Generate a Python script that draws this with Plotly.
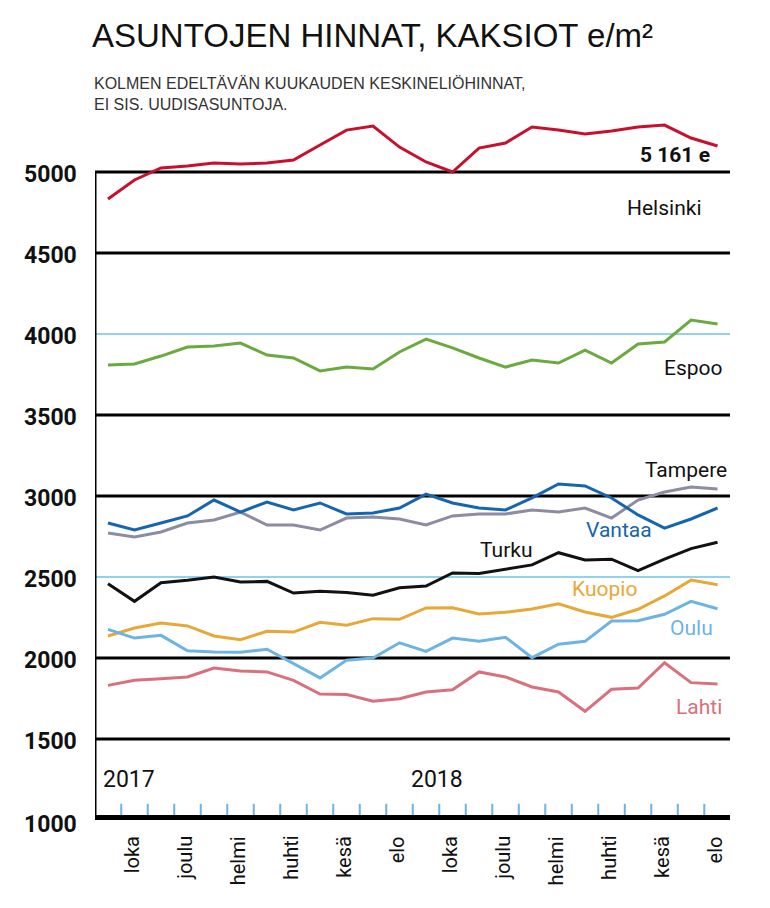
import plotly.graph_objects as go

months = list(range(24))
helsinki = [4833,4951,5025,5037,5056,5049,5056,5074,5167,5259,5284,5154,5062,5000,5148,5179,5278,5259,5235,5253,5278,5290,5210,5161]
espoo = [3809,3815,3864,3920,3926,3944,3870,3852,3772,3796,3784,3889,3969,3914,3852,3796,3840,3821,3901,3821,3938,3951,4086,4062]
vantaa = [2833,2790,2833,2877,2975,2901,2963,2914,2957,2889,2895,2926,3012,2957,2926,2914,2988,3074,3062,2988,2883,2802,2858,2926]
tampere = [2772,2747,2778,2833,2852,2901,2821,2821,2790,2864,2870,2858,2821,2877,2889,2889,2914,2901,2926,2864,2975,3025,3056,3043]
turku = [2459,2350,2465,2480,2500,2469,2473,2401,2412,2404,2387,2434,2444,2525,2522,2550,2575,2650,2605,2610,2540,2610,2675,2715]
kuopio = [2136,2185,2216,2198,2136,2113,2165,2160,2220,2202,2243,2239,2309,2310,2272,2282,2302,2335,2284,2251,2301,2383,2481,2452]
oulu = [2177,2123,2140,2045,2037,2035,2054,1965,1877,1986,2000,2094,2041,2123,2103,2128,2002,2085,2103,2228,2230,2270,2350,2304]
lahti = [1831,1862,1872,1883,1938,1920,1914,1862,1778,1774,1733,1749,1790,1804,1914,1883,1821,1790,1671,1807,1815,1971,1848,1840]

month_labels = ["loka","joulu","helmi","huhti","kesä","elo","loka","joulu","helmi","huhti","kesä","elo"]
month_label_pos = [0.9 + 2*i for i in range(12)]
y_ticks = [1000,1500,2000,2500,3000,3500,4000,4500,5000]
thick_grid = [1500,2000,3000,3500,4500,5000]
thin_grid = [2500,4000]

FONT = "Liberation Sans Narrow, Roboto, sans-serif"
series = [
    ("Helsinki", helsinki, "#c8102e"), ("Espoo", espoo, "#6aaa3e"),
    ("Tampere", tampere, "#8c8ca3"), ("Vantaa", vantaa, "#1565b0"),
    ("Turku", turku, "#111111"), ("Kuopio", kuopio, "#e8a838"),
    ("Oulu", oulu, "#6cb4e4"), ("Lahti", lahti, "#d9707e"),
]

fig = go.Figure()
XMIN, XMAX = -0.49, 23.47
for g in thick_grid:
    fig.add_shape(type="line", xref="x", yref="y", x0=XMIN, x1=XMAX, y0=g, y1=g, line=dict(color="black", width=3), layer="below")
for g in thin_grid:
    fig.add_shape(type="line", xref="x", yref="y", x0=XMIN, x1=XMAX, y0=g, y1=g, line=dict(color="#29a3e0", width=1.2), layer="below")
fig.add_shape(type="line", xref="x", yref="y", x0=XMIN, x1=XMIN, y0=1000, y1=5000, line=dict(color="black", width=3))
fig.add_shape(type="line", xref="x", yref="y", x0=XMIN, x1=XMAX, y0=1000, y1=1000, line=dict(color="black", width=10))

tx, ty = [], []
for i in range(23):
    tx += [i + 0.5, i + 0.5, None]
    ty += [1020, 1100, None]
fig.add_trace(go.Scatter(x=tx, y=ty, mode="lines", line=dict(color="#6cb4e4", width=2), hoverinfo="skip", showlegend=False))

for name, vals, col in series:
    fig.add_trace(go.Scatter(x=months, y=vals, mode="lines", line=dict(color=col, width=3), name=name, showlegend=False))

labels = [("Helsinki", 21, 4778, "#111111"), ("Espoo", 22.1, 3790, "#111111"),
          ("Tampere", 21.8, 3160, "#111111"), ("Vantaa", 19.3, 2790, "#1565b0"),
          ("Turku", 15, 2667, "#111111"), ("Kuopio", 18.75, 2426, "#e8a838"),
          ("Oulu", 22, 2185, "#6cb4e4"), ("Lahti", 22.3, 1700, "#d9707e")]
for t, x, y, c in labels:
    fig.add_annotation(x=x, y=y, text=t, showarrow=False, font=dict(family=FONT, size=21, color=c))
fig.add_annotation(x=21.4, y=5105, text="<b>5 161 e</b>", showarrow=False, font=dict(family=FONT, size=21, color="#111"))
fig.add_annotation(x=0.8, y=1247, text="2017", showarrow=False, font=dict(family=FONT, size=23, color="#111"))
fig.add_annotation(x=12.4, y=1247, text="2018", showarrow=False, font=dict(family=FONT, size=23, color="#111"))
for lab, p in zip(month_labels, month_label_pos):
    fig.add_annotation(x=p, y=1000, yshift=-14, text=lab, textangle=-90, showarrow=False, xanchor="center", yanchor="top",
                       font=dict(family=FONT, size=20, color="#111"))
for v in y_ticks:
    fig.add_annotation(x=0, xref="paper", xanchor="right", xshift=-16, y=v, yshift=-2 if v > 1000 else -4, text="<b>%d</b>" % v,
                       showarrow=False, font=dict(family=FONT, size=23, color="#111"))

fig.update_layout(
    width=770, height=908, margin=dict(l=87, r=48, t=107, b=96),
    paper_bgcolor="white", plot_bgcolor="white",
    xaxis=dict(range=[XMIN, XMAX], visible=False),
    yaxis=dict(range=[1000, 5352], visible=False),
    title=dict(text="ASUNTOJEN HINNAT, KAKSIOT e/m²", x=84/770, xanchor="left", y=1-27/908, yanchor="middle",
               font=dict(family="Liberation Sans, Arial", size=33, color="#111")),
)
fig.add_annotation(xref="paper", yref="paper", x=-3/635, xanchor="left", y=1+21/705, yanchor="middle", align="left",
                   text="KOLMEN EDELTÄVÄN KUUKAUDEN KESKINELIÖHINNAT,<br>EI SIS. UUDISASUNTOJA.", showarrow=False,
                   font=dict(family="Liberation Sans, Arial", size=16, color="#333"))
fig.write_html("out.html")
